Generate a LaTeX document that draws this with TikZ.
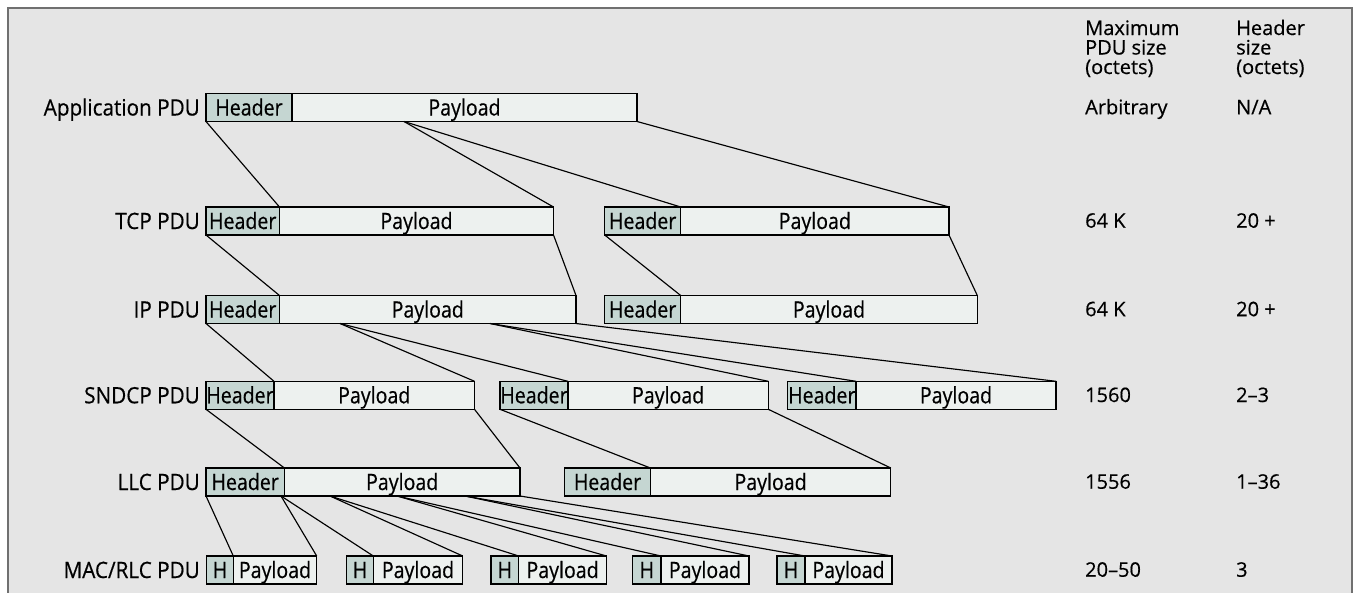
\documentclass[tikz,border=0pt]{standalone}
\usepackage{fontspec}
\setmainfont{Open Sans}
\newfontfamily\boxfont[FakeStretch=0.87,FakeBold=0.5]{Open Sans}
\newfontfamily\labelfont[FakeStretch=0.92,FakeBold=0.5]{Open Sans}
\newfontfamily\colfont[FakeBold=0.5]{Open Sans}
\definecolor{framebg}{RGB}{229,229,229}
\definecolor{framegray}{RGB}{112,112,112}
\definecolor{hdrfill}{RGB}{197,214,210}
\definecolor{payfill}{RGB}{237,241,239}
\tikzset{
  cellbase/.style={draw=black, line width=1.3pt, minimum height=28pt,
    inner sep=0pt, outer sep=0pt, anchor=west, text height=20pt, text depth=4pt,
    font=\boxfont\fontsize{22.5}{24}\selectfont},
  hcell/.style={cellbase, fill=hdrfill},
  pcell/.style={cellbase, fill=payfill},
  rowlabel/.style={anchor=base east, inner sep=0pt, font=\labelfont\fontsize{22.5}{24}\selectfont},
  coltext/.style={anchor=base west, inner sep=0pt, font=\colfont\fontsize{20}{22}\selectfont},
  link/.style={draw=black, line width=1.15pt}
}
% #1 name, #2 left x, #3 header/payload split x, #4 right x, #5 centre y, #6 header text
\newcommand{\pducell}[6]{%
  \node[hcell, minimum width={#3-#2}] (#1h) at (#2,#5) {#6};
  \node[pcell, minimum width={#4-#3}] (#1p) at (#3,#5) {Payload};
}
\begin{document}
\begin{tikzpicture}[x=1pt, y=-1pt]
\useasboundingbox (0,0) rectangle (1355,592);
\clip (0,0) rectangle (1355,592);
\fill[white] (0,0) rectangle (1355,592);
\draw[framegray, line width=2pt, fill=framebg] (8,8) rectangle (1352,620);

% column headings
\node[coltext] (mx1) at (1085,35) {Maximum};
\node[coltext] (mx2) at (1085,54.5) {PDU size};
\node[coltext] (mx3) at (1085,74) {(octets)};
\node[coltext] (hs1) at (1236,35) {Header};
\node[coltext] (hs2) at (1236,54.5) {size};
\node[coltext] (hs3) at (1236,74) {(octets)};

% split points on payload bottoms
\coordinate (a1) at (404,121.5);
\coordinate (i1) at (340,323.5);
\coordinate (i2) at (490,323.5);
\coordinate (l1) at (281,496);
\coordinate (l2) at (330,496);
\coordinate (l3) at (397,496);
\coordinate (l4) at (465,496);

% PDU rows
\node[rowlabel] (lapp) at (200,115.5) {Application PDU};
\pducell{app}{206}{292}{637}{107.5}{Header}

\node[rowlabel] (ltcp) at (200,229) {TCP PDU};
\pducell{tcpa}{206}{279.5}{553.5}{221}{Header}
\pducell{tcpb}{604.7}{680.7}{949}{221}{Header}

\node[rowlabel] (lip) at (200,317.5) {IP PDU};
\pducell{ipa}{206}{279.5}{576}{309.5}{Header}
\pducell{ipb}{604.7}{680.7}{977.3}{309.5}{Header}

\node[rowlabel] (lsn) at (200,403.3) {SNDCP PDU};
\pducell{sna}{206}{274}{474.5}{395.3}{Header}
\pducell{snb}{500}{568}{768.3}{395.3}{Header}
\pducell{snc}{787.7}{856}{1056}{395.3}{Header}

\node[rowlabel] (lllc) at (200,490) {LLC PDU};
\pducell{llca}{206}{284.4}{520}{482}{Header}
\pducell{llcb}{564.7}{650.4}{890.8}{482}{Header}

\node[rowlabel] (lmac) at (200,578) {MAC/RLC PDU};
\pducell{maca}{206.5}{233.3}{316.7}{570}{H}
\pducell{macb}{346.7}{373.3}{462.7}{570}{H}
\pducell{macc}{491}{518.7}{606.5}{570}{H}
\pducell{macd}{632.7}{661}{749}{570}{H}
\pducell{mace}{777}{805}{892}{570}{H}

% right-hand columns
\node[coltext] (v1a) at (1085,114.2) {Arbitrary};
\node[coltext] (v1b) at (1236,114.2) {N/A};
\node[coltext] (v2a) at (1085,227.7) {64 K};
\node[coltext] (v2b) at (1236,227.7) {20 +};
\node[coltext] (v3a) at (1085,316.2) {64 K};
\node[coltext] (v3b) at (1236,316.2) {20 +};
\node[coltext] (v4a) at (1085,402) {1560};
\node[coltext] (v4b) at (1236,402) {2–3};
\node[coltext] (v5a) at (1085,488.7) {1556};
\node[coltext] (v5b) at (1236,488.7) {1–36};
\node[coltext] (v6a) at (1085,576.7) {20–50};
\node[coltext] (v6b) at (1236,576.7) {3};

% encapsulation lines
\draw[link] (apph.south west) -- (tcpah.north east);
\draw[link] (a1) -- (tcpap.north east);
\draw[link] (a1) -- (tcpbh.north east);
\draw[link] (appp.south east) -- (tcpbp.north east);

\draw[link] (tcpah.south west) -- (ipah.north east);
\draw[link] (tcpap.south east) -- (ipap.north east);
\draw[link] (tcpbh.south west) -- (ipbh.north east);
\draw[link] (tcpbp.south east) -- (ipbp.north east);

\draw[link] (ipah.south west) -- (snah.north east);
\draw[link] (i1) -- (snap.north east);
\draw[link] (i1) -- (snbh.north east);
\draw[link] (i2) -- (snbp.north east);
\draw[link] (i2) -- (snch.north east);
\draw[link] (ipap.south east) -- (sncp.north east);

\draw[link] (snah.south west) -- (llcah.north east);
\draw[link] (snap.south east) -- (llcap.north east);
\draw[link] (snbh.south west) -- (llcbh.north east);
\draw[link] (snbp.south east) -- (llcbp.north east);

\draw[link] (llcah.south west) -- (macah.north east);
\draw[link] (l1) -- (macap.north east);
\draw[link] (l1) -- (macbh.north east);
\draw[link] (l2) -- (macbp.north east);
\draw[link] (l2) -- (macch.north east);
\draw[link] (l3) -- (maccp.north east);
\draw[link] (l3) -- (macdh.north east);
\draw[link] (l4) -- (macdp.north east);
\draw[link] (l4) -- (maceh.north east);
\draw[link] (llcap.south east) -- (macep.north east);
\end{tikzpicture}
\end{document}
